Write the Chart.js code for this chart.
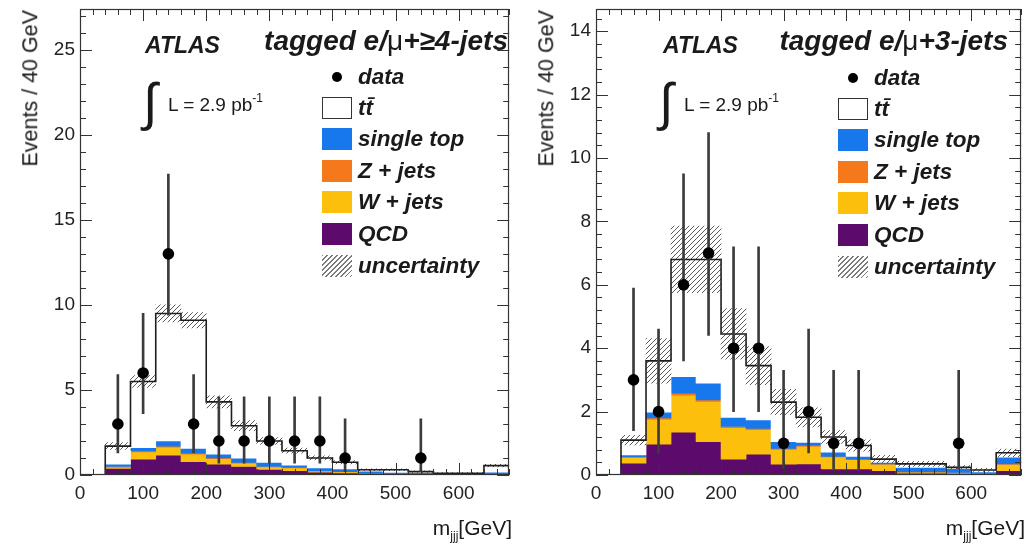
<!DOCTYPE html>
<html>
<head>
<meta charset="utf-8">
<script src="https://cdn.jsdelivr.net/npm/chart.js@4.4.1/dist/chart.umd.min.js"></script>
<style>
body{margin:0;background:#fff;}
#wrap{position:relative;width:1027px;height:547px;overflow:hidden;background:#fff;
  font-family:"Liberation Sans",Arial,Helvetica,sans-serif;color:#1a1a1a;}
canvas{position:absolute;top:0;}
.t{position:absolute;white-space:nowrap;line-height:1;}
.bi{font-weight:bold;font-style:italic;}
.mu{font-weight:normal;font-style:normal;}
.sw{position:absolute;width:30px;height:22px;box-sizing:border-box;}
.ytitle{position:absolute;white-space:nowrap;line-height:1;font-size:21.5px;transform-origin:0 0;transform:rotate(-90deg) translate(-100%,-50%);}
sub{font-size:12px;vertical-align:-5px;}
sup{font-size:12px;vertical-align:9px;}
</style>
</head>
<body>
<div id="wrap">
  <canvas id="c4" width="515" height="547" style="left:0"></canvas>
  <canvas id="c3" width="512" height="547" style="left:515px"></canvas>
</div>
<script>
// ========= DATA =========
// bins of 40 GeV, 40..680
const centers = [60,100,140,180,220,260,300,340,380,420,460,500,540,580,620,660];
const edges   = [40,80,120,160,200,240,280,320,360,400,440,480,520,560,600,640,680];

// tagged e/mu + >=4 jets
const qcd4 = [0.39,0.93,1.16,0.78,0.64,0.50,0.33,0.25,0.16,0.12,0.07,0.04,0.04,0.03,0.03,0.04];
const w4   = [0.07,0.43,0.48,0.45,0.32,0.20,0.14,0.17,0.07,0.06,0.02,0.00,0.00,0.00,0.00,0.01];
const z4   = [0.04,0.05,0.06,0.05,0.04,0.04,0.03,0.03,0.02,0.02,0.01,0.01,0.01,0.01,0.01,0.01];
const st4  = [0.14,0.19,0.30,0.29,0.22,0.25,0.24,0.13,0.17,0.16,0.12,0.10,0.09,0.03,0.02,0.11];
const tt4  = [1.06,3.90,7.50,7.53,3.08,1.91,1.26,0.85,0.58,0.39,0.09,0.16,0.06,0.03,0.04,0.38];
const unc4 = [0.20,0.35,0.50,0.45,0.35,0.30,0.20,0.15,0.12,0.10,0.06,0.06,0.05,0.04,0.04,0.08];
const data4X  = [60,100,140,180,220,260,300,340,380,420,540];
const data4Y  = [3,6,13,3,2,2,2,2,2,1,1];
const data4Lo = [1.3,3.6,9.4,1.3,0.7,0.7,0.7,0.7,0.7,0.2,0.2];
const data4Hi = [5.9,9.5,17.7,5.9,4.6,4.6,4.6,4.6,4.6,3.3,3.3];

// tagged e/mu + 3 jets
const qcd3 = [0.37,0.97,1.35,1.05,0.50,0.66,0.34,0.35,0.19,0.19,0.14,0.06,0.06,0.05,0.04,0.14];
const w3   = [0.18,0.78,1.17,1.27,0.99,0.77,0.47,0.55,0.38,0.29,0.20,0.03,0.03,0.02,0.00,0.19];
const z3   = [0.03,0.05,0.06,0.05,0.04,0.04,0.03,0.03,0.02,0.02,0.01,0.01,0.01,0.01,0.01,0.02];
const st3  = [0.05,0.18,0.52,0.53,0.29,0.27,0.21,0.10,0.13,0.09,0.05,0.14,0.14,0.12,0.05,0.21];
const tt3  = [0.47,1.62,3.70,3.90,2.63,1.71,1.25,0.79,0.48,0.34,0.10,0.11,0.11,0.04,0.06,0.14];
const unc3 = [0.15,0.70,1.05,1.05,0.80,0.60,0.40,0.30,0.20,0.18,0.12,0.08,0.08,0.06,0.05,0.12];
const data3X  = [60,100,140,180,220,260,300,340,380,420,580];
const data3Y  = [3,2,6,7,4,4,1,2,1,1,1];
const data3Lo = [1.4,0.7,3.6,4.4,2.0,2.0,0.2,0.7,0.2,0.2,0.2];
const data3Hi = [5.9,4.6,9.5,10.8,7.2,7.2,3.3,4.6,3.3,3.3,3.3];

const xTicks = {min:0, max:680, major:100, minor:20};
const legendLabels = ['data','tt\u0304','single top','Z + jets','W + jets','QCD','uncertainty'];

// ========= STYLE =========
const COL = {qcd:'#5c0a6b', w:'#fcbf0c', z:'#f5781a', st:'#1778ee', tt:'#ffffff', line:'#1e1e1e', err:'#3c3c3c'};
const FONT = '"Liberation Sans", Arial, sans-serif';
Chart.defaults.font.family = FONT;

function hatchPattern(ctx){
    const c = document.createElement('canvas'); c.width = 5; c.height = 5;
    const g = c.getContext('2d');
    g.strokeStyle = '#5a5a5a'; g.lineWidth = 1;
    g.beginPath();
    g.moveTo(-1,6); g.lineTo(6,-1);
    g.moveTo(-3.5,3.5); g.lineTo(3.5,-3.5);
    g.moveTo(1.5,8.5); g.lineTo(8.5,1.5);
    g.stroke();
    return ctx.createPattern(c,'repeat');
}

// ROOT-like frame with inner ticks on all four sides
const rootFrame = {
    id:'rootFrame',
    afterDraw(chart, args, o){
        const {ctx, chartArea:a, scales:{x, y}} = chart;
        ctx.save();
        ctx.strokeStyle = '#333'; ctx.lineWidth = 1;
        ctx.beginPath();
        for(let i=0; i*xTicks.minor <= xTicks.max+1e-9; i++){
            const v = i*xTicks.minor, px = Math.round(x.getPixelForValue(v))+0.5;
            const L = (v % xTicks.major === 0) ? 12 : 6;
            ctx.moveTo(px, a.bottom); ctx.lineTo(px, a.bottom-L);
            ctx.moveTo(px, a.top); ctx.lineTo(px, a.top+L);
        }
        for(let i=0; i*o.yMinor <= o.yMax+1e-9; i++){
            const v = i*o.yMinor, py = Math.round(y.getPixelForValue(v))+0.5;
            const major = Math.abs(v/o.yMajor - Math.round(v/o.yMajor)) < 1e-6;
            const L = major ? 12 : 6;
            ctx.moveTo(a.left, py); ctx.lineTo(a.left+L, py);
            ctx.moveTo(a.right, py); ctx.lineTo(a.right-L, py);
        }
        ctx.stroke();
        ctx.lineWidth = 1.2;
        ctx.strokeRect(Math.round(a.left)+0.5, Math.round(a.top)+0.5, Math.round(a.width)-1, Math.round(a.height)-1);
        ctx.restore();
    }
};

function makeChart(id, p){
    const cv = document.getElementById(id);
    const ctx = cv.getContext('2d');
    const layers = [
        {label:'QCD', v:p.qcd, c:COL.qcd},
        {label:'W + jets', v:p.w, c:COL.w},
        {label:'Z + jets', v:p.z, c:COL.z},
        {label:'single top', v:p.st, c:COL.st},
        {label:'tt', v:p.tt, c:COL.tt}
    ];
    const base = centers.map(() => 0);
    const datasets = layers.map((L, k) => ({
        type:'bar', label:L.label,
        data: centers.map((x, i) => { const lo = base[i]; base[i] += L.v[i]; return {x, y:[lo, base[i]]}; }),
        backgroundColor:L.c, borderWidth:0, grouped:false,
        barPercentage:1, categoryPercentage:1, order:20-k
    }));
    const tot = base.slice();
    datasets.push({
        type:'bar', label:'uncertainty',
        data: centers.map((x, i) => ({x, y:[tot[i]-p.unc[i], tot[i]+p.unc[i]]})),
        backgroundColor: hatchPattern(ctx), borderWidth:0, grouped:false,
        barPercentage:1, categoryPercentage:1, order:5
    });
    // step outline: (low edge, bin content), closed at both ends
    const step = [{x:edges[0], y:0}].concat(centers.map((c, i) => ({x:edges[i], y:tot[i]})));
    step.push({x:edges[edges.length-1], y:tot[tot.length-1]});
    datasets.push({
        type:'line', label:'total', data:step, stepped:'before',
        borderColor:COL.line, borderWidth:1.6, pointRadius:0, fill:false, order:3
    });
    datasets.push({
        type:'bar', label:'err',
        data: p.dx.map((x, i) => ({x, y:[p.dlo[i], p.dhi[i]]})),
        backgroundColor:COL.err, borderWidth:0, grouped:false, barThickness:2, order:2
    });
    datasets.push({
        type:'line', label:'data',
        data: p.dx.map((x, i) => ({x, y:p.dy[i]})),
        showLine:false, pointRadius:5.8, pointBackgroundColor:'#000', pointBorderColor:'#000', pointBorderWidth:0, order:1
    });
    return new Chart(ctx, {
        type:'bar',
        data:{datasets},
        options:{
            responsive:false, animation:false, events:[],
            layout:{padding:{left:0, right:p.padR, top:9, bottom:40}},
            plugins:{legend:{display:false}, tooltip:{enabled:false},
                rootFrame:{yMax:p.yMax, yMajor:p.yMajor, yMinor:p.yMinor}},
            scales:{
                x:{type:'linear', min:xTicks.min, max:xTicks.max, offset:false,
                   ticks:{stepSize:xTicks.major, includeBounds:false, padding:7, color:'#222', font:{size:19}, maxRotation:0},
                   grid:{display:false, drawTicks:false}, border:{display:false},
                   afterFit(s){ s.height = 32; s.paddingLeft = 0; s.paddingRight = 0; }},
                y:{type:'linear', min:0, max:p.yMax,
                   ticks:{stepSize:p.yMajor, includeBounds:false, padding:5, color:'#222', font:{size:19}},
                   grid:{display:false, drawTicks:false}, border:{display:false},
                   afterFit(s){ s.width = p.yW; s.paddingTop = 0; s.paddingBottom = 0; }}
            }
        },
        plugins:[rootFrame]
    });
}

makeChart('c4', {qcd:qcd4, w:w4, z:z4, st:st4, tt:tt4, unc:unc4,
    dx:data4X, dy:data4Y, dlo:data4Lo, dhi:data4Hi,
    yMax:27.4, yMajor:5, yMinor:1, yW:80, padR:3.5});
makeChart('c3', {qcd:qcd3, w:w3, z:z3, st:st3, tt:tt3, unc:unc3,
    dx:data3X, dy:data3Y, dlo:data3Lo, dhi:data3Hi,
    yMax:14.7, yMajor:2, yMinor:0.4, yW:81, padR:2});

// ========= TEXT OVERLAYS =========
const wrap = document.getElementById('wrap');
function text(html, x, y, size, cls, right){
    const d = document.createElement('div');
    d.className = 't ' + (cls || '');
    d.innerHTML = html;
    d.style.fontSize = size + 'px';
    d.style.top = y + 'px';
    d.style.transform = 'translateY(-50%)';
    if(right) d.style.right = (1027 - x) + 'px'; else d.style.left = x + 'px';
    wrap.appendChild(d);
    return d;
}
function box(x, y, style){
    const d = document.createElement('div');
    d.className = 'sw';
    d.style.left = x + 'px'; d.style.top = (y - 11) + 'px';
    Object.assign(d.style, style);
    wrap.appendChild(d);
}
const legendY = [77,108,139,171,202,234,266];
function panelText(o){
    text('ATLAS', o.atlasX, 45, 23, 'bi');
    text(o.title, o.titleR, 41, 28, 'bi', true);
    text('\u222B', o.intX, 102, 52, '');
    text('L = 2.9 pb<sup>-1</sup>', o.intX + 25, 103, 19, '');
    const sw = [
        null,
        {background:'#fff', border:'1.5px solid #333'},
        {background:COL.st}, {background:COL.z}, {background:COL.w}, {background:COL.qcd},
        {background:'repeating-linear-gradient(135deg,#7a7a7a 0 1px,transparent 1px 3.5px)'}
    ];
    legendLabels.forEach((lab, i) => {
        const y = legendY[i] + o.dy;
        if(i === 0){
            const d = document.createElement('div');
            Object.assign(d.style, {position:'absolute', left:(o.swX + 10) + 'px', top:(y - 5) + 'px',
                width:'10px', height:'10px', borderRadius:'50%', background:'#000'});
            wrap.appendChild(d);
        } else box(o.swX, y, sw[i]);
        text(lab, o.swX + 36, y, 22.5, 'bi');
    });
    const yt = document.createElement('div');
    yt.className = 'ytitle'; yt.textContent = 'Events / 40 GeV';
    yt.style.left = o.ytX + 'px'; yt.style.top = '10px';
    wrap.appendChild(yt);
    text('m<sub>jjj</sub>[GeV]', o.xtR, 529, 21, '', true);
}
panelText({atlasX:145, titleR:508, intX:143, swX:322, dy:0, ytX:31, xtR:512,
    title:'tagged e/<span class="mu">\u03BC</span>+\u22654-jets'});
panelText({atlasX:663, titleR:1008, intX:659, swX:838, dy:1, ytX:547, xtR:1025,
    title:'tagged e/<span class="mu">\u03BC</span>+3-jets'});
</script>
</body>
</html>
